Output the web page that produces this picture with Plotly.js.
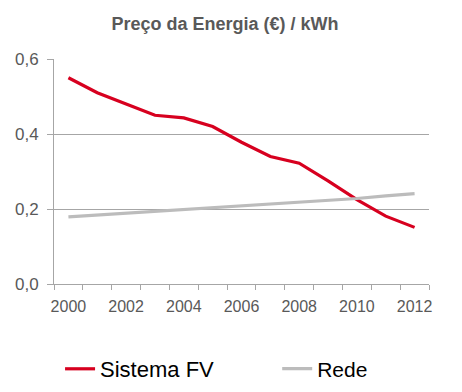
<!DOCTYPE html>
<html>
<head>
<meta charset="utf-8">
<script src="https://cdn.plot.ly/plotly-3.0.1.min.js"></script>
<style>
html,body{margin:0;padding:0;background:#fff;}
#chart{width:462px;height:392px;}
</style>
</head>
<body>
<div id="chart"></div>
<script>
var years = [2000, 2001, 2002, 2003, 2004, 2005, 2006, 2007, 2008, 2009, 2010, 2011, 2012];
var tickYears = [2000, 2002, 2004, 2006, 2008, 2010, 2012];
var sistemaFV = [0.55, 0.51, 0.48, 0.45, 0.443, 0.42, 0.378, 0.34, 0.322, 0.275, 0.225, 0.181, 0.151];
var rede = [0.179, 0.184, 0.189, 0.193, 0.197, 0.202, 0.207, 0.212, 0.217, 0.222, 0.228, 0.235, 0.241];
var seriesNames = ['Sistema FV', 'Rede'];
var yTicks = [0, 0.2, 0.4, 0.6];

var FONT = '"Liberation Sans", Arial, sans-serif';
var GRID = '#a6a6a6';

var traces = [
  {x: years, y: sistemaFV, name: seriesNames[0], type: 'scatter', mode: 'lines',
   line: {color: '#d7001f', width: 3.2}, legend: 'legend'},
  {x: years, y: rede, name: seriesNames[1], type: 'scatter', mode: 'lines',
   line: {color: '#bcbcbc', width: 3.2}, legend: 'legend2'}
];

var legendCommon = {
  xref: 'container', yref: 'container', xanchor: 'left', yanchor: 'middle', y: 0.0587,
  orientation: 'h', bgcolor: 'rgba(0,0,0,0)', borderwidth: 0, itemwidth: 30,
  font: {family: FONT, size: 22, color: '#000'}
};

var layout = {
  width: 462, height: 392,
  margin: {l: 54, r: 33, t: 59, b: 108, autoexpand: false},
  paper_bgcolor: '#fff', plot_bgcolor: '#fff',
  separators: ', ',
  font: {family: FONT, color: '#595959', size: 16},
  title: {text: '<b>Preço da Energia (€) / kWh</b>', font: {family: FONT, size: 18, color: '#595959'},
          x: 0.487, xanchor: 'center', xref: 'container', y: 0.94, yanchor: 'middle', yref: 'container'},
  showlegend: true,
  legend: Object.assign({}, legendCommon, {x: 0.13}),
  legend2: Object.assign({}, legendCommon, {x: 0.6, font: {family: FONT, size: 21, color: '#000'}}),
  xaxis: {
    type: 'linear', range: [1999.5, 2012.5], fixedrange: true,
    tickvals: tickYears, ticktext: tickYears.map(String),
    ticks: 'outside', ticklen: 5, tickcolor: 'rgba(0,0,0,0)',
    minor: {ticks: 'outside', ticklen: 5, tickcolor: GRID, tick0: 1999.5, dtick: 1, showgrid: false},
    showgrid: false, zeroline: false,
    showline: true, linecolor: GRID, linewidth: 1,
    ticklabelstandoff: 3,
    tickfont: {family: FONT, size: 16, color: '#595959'}
  },
  yaxis: {
    range: [0, 0.6], fixedrange: true,
    tickvals: yTicks, tickformat: '.1f',
    ticks: 'outside', ticklen: 6, tickcolor: GRID,
    showgrid: true, gridcolor: GRID, gridwidth: 1,
    zeroline: false, showline: true, linecolor: GRID, linewidth: 1,
    ticklabelstandoff: 5,
    tickfont: {family: FONT, size: 17, color: '#595959'}
  }
};

Plotly.newPlot('chart', traces, layout, {staticPlot: true, displayModeBar: false});
</script>
</body>
</html>
